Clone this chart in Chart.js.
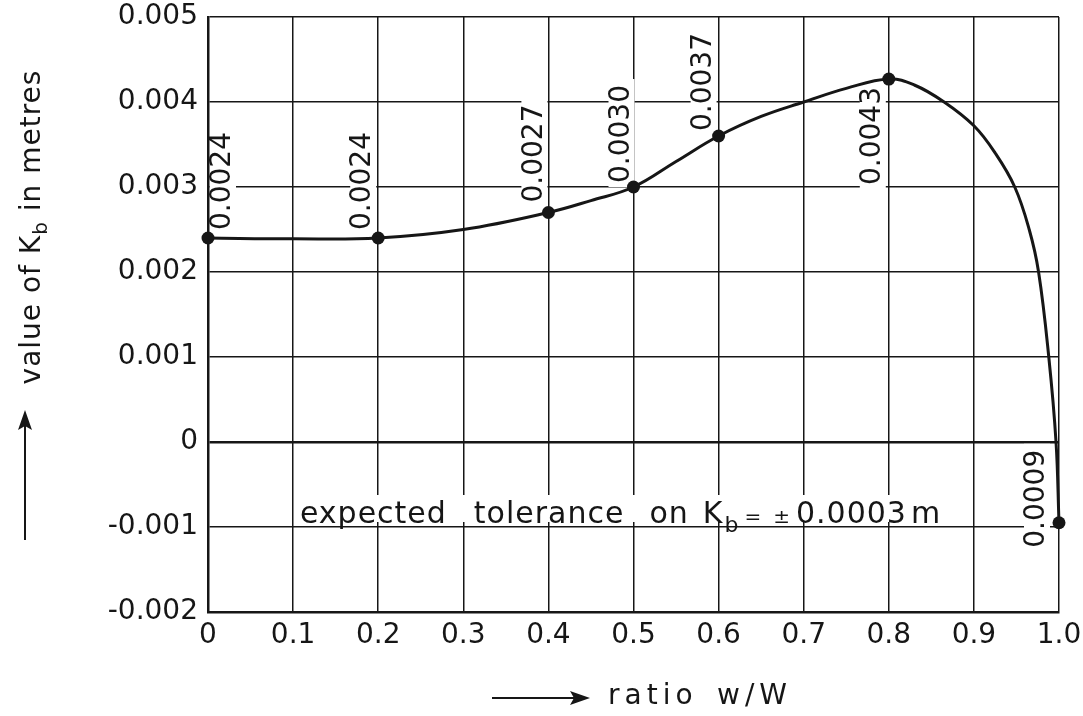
<!DOCTYPE html>
<html>
<head>
<meta charset="utf-8">
<script src="https://cdn.jsdelivr.net/npm/chart.js@4"></script>
<style>
  html, body { margin: 0; padding: 0; background: #fff; }
  #wrap { width: 1083px; height: 716px; }
</style>
</head>
<body>
<div id="wrap"><canvas id="c" width="1083" height="716"></canvas></div>
<script>
// ---- data ----
const ratioValues = [0, 0.2, 0.4, 0.5, 0.6, 0.8, 1.0];
const kbValues = [0.0024, 0.0024, 0.0027, 0.0030, 0.0036, 0.00427, -0.00095];
const pointLabels = ['0.0024', '0.0024', '0.0027', '0.0030', '0.0037', '0.0043', '0.0009'];

// hand-drawn curve
const curveX = [0, 0.1, 0.2, 0.3, 0.4, 0.45, 0.5, 0.55, 0.6, 0.65, 0.7, 0.75, 0.8,
                0.83, 0.865, 0.9, 0.925, 0.948, 0.965, 0.976, 0.988, 0.9965, 1.0];
const curveY = [0.0024, 0.00239, 0.0024, 0.0025, 0.0027, 0.00284, 0.0030, 0.0033, 0.0036, 0.00383, 0.0040, 0.00416, 0.00427,
                0.0042, 0.0040, 0.00372, 0.0034, 0.0030, 0.0025, 0.0020, 0.0010, 0.0, -0.00095];

const xTickLabels = ['0', '0.1', '0.2', '0.3', '0.4', '0.5', '0.6', '0.7', '0.8', '0.9', '1.0'];
const yTickLabels = ['-0.002', '-0.001', '0', '0.001', '0.002', '0.003', '0.004', '0.005'];

const yTitle = ['value of K', 'b', ' in metres'];
const xTitle = ['ratio', 'w/W'];
const noteParts = ['expected', 'tolerance', 'on', 'K', 'b', '=', '±', '0.0003', 'm'];

// ---- styling / placement ----
const FONT = '"DejaVu Sans", sans-serif';
const INK = '#161616';
const labelPlace = [
  { dx: 15, dy: -8, mode: 'start' },
  { dx: -15, dy: -8, mode: 'start' },
  { dx: -14, dy: -10, mode: 'start' },
  { dx: -12, dy: -4, mode: 'start' },
  { dx: -15, dy: -5, mode: 'start' },
  { dx: -16, dy: 8, mode: 'end' },
  { dx: -22, dy: -24, mode: 'center' }
];
const noteStyle = [
  { gap: 0, size: 30, shift: 0 },
  { gap: 27, size: 30, shift: 0 },
  { gap: 25, size: 30, shift: 0 },
  { gap: 14, size: 30, shift: 0 },
  { gap: 1, size: 22, shift: 9 },
  { gap: 5, size: 20, shift: 0 },
  { gap: 11, size: 20, shift: 0 },
  { gap: 5, size: 30, shift: 0 },
  { gap: 4, size: 30, shift: 0 }
];

function setSpacing(ctx, v) { if ('letterSpacing' in ctx) ctx.letterSpacing = v; }

const annotations = {
  id: 'annotations',
  beforeDatasetsDraw(chart) {
    const { ctx, scales: { x, y } } = chart;
    ctx.save();
    ctx.font = '28px ' + FONT;
    setSpacing(ctx, '0px');
    pointLabels.forEach((t, i) => {
      const px = x.getPixelForValue(ratioValues[i]);
      const py = y.getPixelForValue(kbValues[i]);
      const p = labelPlace[i];
      const w = ctx.measureText(t).width;
      const cx = px + p.dx;
      let y0;
      if (p.mode === 'start') y0 = py + p.dy;
      else if (p.mode === 'end') y0 = py + p.dy + w;
      else y0 = py + p.dy + w / 2;
      ctx.fillStyle = '#fff';
      ctx.fillRect(cx - 13, y0 - w - 6, 26, w + 10);
      ctx.save();
      ctx.translate(cx, y0);
      ctx.rotate(-Math.PI / 2);
      ctx.fillStyle = INK;
      ctx.textAlign = 'left';
      ctx.textBaseline = 'middle';
      ctx.fillText(t, 0, 0);
      ctx.restore();
    });

    // tolerance note
    const base = y.getPixelForValue(-0.001) - 4;
    let cx = x.getPixelForValue(0.108);
    const startX = cx;
    setSpacing(ctx, '1px');
    const widths = noteParts.map((t, i) => {
      ctx.font = noteStyle[i].size + 'px ' + FONT;
      return ctx.measureText(t).width;
    });
    let total = 0;
    noteParts.forEach((t, i) => { total += noteStyle[i].gap + widths[i]; });
    ctx.fillStyle = '#fff';
    ctx.fillRect(startX - 4, base - 28, total + 8, 27);
    ctx.fillStyle = INK;
    ctx.textAlign = 'left';
    ctx.textBaseline = 'alphabetic';
    noteParts.forEach((t, i) => {
      const s = noteStyle[i];
      cx += s.gap;
      ctx.font = s.size + 'px ' + FONT;
      ctx.fillText(t, cx, base + s.shift);
      cx += widths[i];
    });
    ctx.restore();
  },
  afterDraw(chart) {
    const { ctx } = chart;
    ctx.save();
    ctx.fillStyle = INK;
    ctx.strokeStyle = INK;
    ctx.lineWidth = 2;
    // y title (rotated) with arrow
    const ty = 227;
    const tx = 30;
    setSpacing(ctx, '1px');
    const sizes = [28, 20, 28];
    const shifts = [0, 7, 0];
    const ws = yTitle.map((t, i) => { ctx.font = sizes[i] + 'px ' + FONT; return ctx.measureText(t).width; });
    const tw = ws.reduce((a, b) => a + b, 0);
    ctx.save();
    ctx.translate(tx + 10, ty);
    ctx.rotate(-Math.PI / 2);
    ctx.textBaseline = 'alphabetic';
    let ox = -tw / 2;
    yTitle.forEach((t, i) => {
      ctx.font = sizes[i] + 'px ' + FONT;
      ctx.fillText(t, ox, shifts[i]);
      ox += ws[i];
    });
    ctx.restore();
    // y arrow
    const ax = 25;
    ctx.beginPath(); ctx.moveTo(ax, 540); ctx.lineTo(ax, 424); ctx.stroke();
    ctx.beginPath(); ctx.moveTo(ax, 410); ctx.lineTo(ax - 7, 430); ctx.lineTo(ax, 426); ctx.lineTo(ax + 7, 430); ctx.closePath(); ctx.fill();

    // x title with arrow
    const by = 698;
    ctx.beginPath(); ctx.moveTo(492, by); ctx.lineTo(576, by); ctx.stroke();
    ctx.beginPath(); ctx.moveTo(590, by); ctx.lineTo(570, by - 7); ctx.lineTo(574, by); ctx.lineTo(570, by + 7); ctx.closePath(); ctx.fill();
    ctx.font = '28px ' + FONT;
    setSpacing(ctx, '5px');
    ctx.textBaseline = 'alphabetic';
    ctx.fillText(xTitle[0], 608, 704);
    ctx.fillText(xTitle[1], 717, 704);
    ctx.restore();
  }
};

Chart.defaults.font.family = FONT;
Chart.defaults.font.size = 28;
Chart.defaults.color = INK;

new Chart(document.getElementById('c'), {
  type: 'scatter',
  data: {
    datasets: [
      {
        data: curveX.map((v, i) => ({ x: v, y: curveY[i] })),
        showLine: true,
        tension: 0.4,
        borderColor: INK,
        borderWidth: 3,
        pointRadius: 0,
        fill: false,
        clip: false
      },
      {
        data: ratioValues.map((v, i) => ({ x: v, y: kbValues[i] })),
        showLine: false,
        pointRadius: 6.5,
        backgroundColor: INK,
        borderColor: INK,
        borderWidth: 0,
        clip: false
      }
    ]
  },
  options: {
    responsive: false,
    animation: false,
    layout: { padding: { left: 0, top: 17, right: 24, bottom: 0 } },
    plugins: { legend: { display: false }, tooltip: { enabled: false } },
    scales: {
      x: {
        type: 'linear',
        min: 0, max: 1,
        afterFit(scale) { scale.height = 104; },
        ticks: {
          stepSize: 0.1,
          padding: 1,
          maxRotation: 0,
          autoSkip: false,
          font: { size: 28, lineHeight: 1.64 },
          callback: (v, i) => xTickLabels[i]
        },
        grid: { color: INK, lineWidth: 1.5, drawTicks: false },
        border: { display: true, color: INK, width: 2.5 }
      },
      y: {
        type: 'linear',
        min: -0.002, max: 0.005,
        afterFit(scale) { scale.width = 208; },
        ticks: {
          stepSize: 0.001,
          padding: 10,
          autoSkip: false,
          font: { size: 28, lineHeight: 0.5 },
          callback: (v, i) => yTickLabels[i]
        },
        grid: {
          color: INK,
          lineWidth: (c) => (Math.abs(c.tick.value) < 1e-9 ? 2.4 : 1.5),
          drawTicks: false
        },
        border: { display: true, color: INK, width: 2.5 }
      }
    }
  },
  plugins: [annotations]
});
</script>
</body>
</html>
